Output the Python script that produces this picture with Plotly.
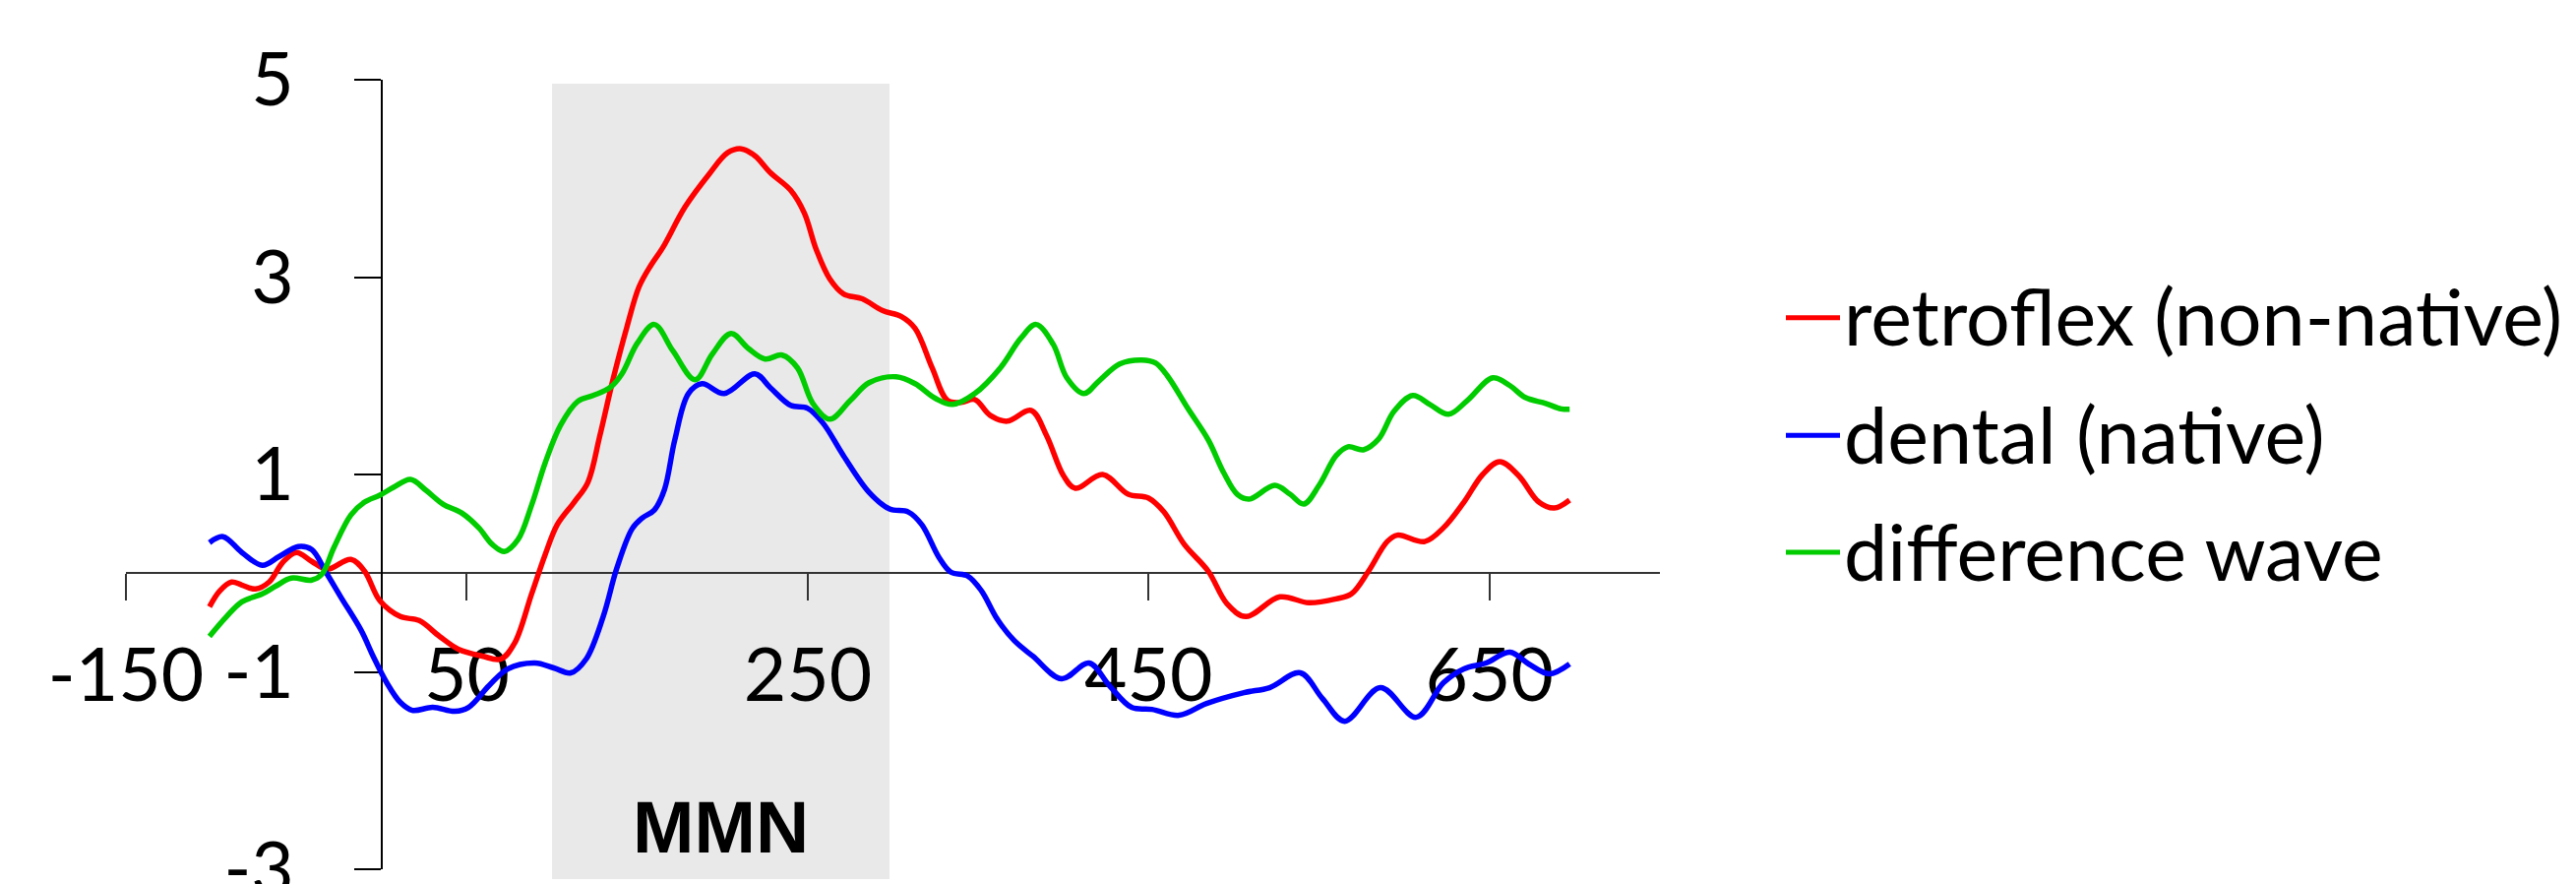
import plotly.graph_objects as go

# ---------------- data ----------------
x_ticks = [-150, 50, 250, 450, 650]
x_ticktext = ["-150", "50", "250", "450", "650"]
y_ticks = [-3, -1, 1, 3, 5]
y_ticktext = ["-3", "-1", "1", "3", "5"]

series_names = ["retroflex (non-native)", "dental (native)", "difference wave"]

retroflex_x = [-101, -95, -88, -82, -74, -66, -58, -50, -41, -32, -18, -10, -1, 11, 22, 34, 45, 59, 70, 78,
               88, 96, 103, 113, 121, 128, 136, 144, 151, 158, 165, 178, 192, 203, 211, 219, 228, 240, 248, 255,
               263, 271, 282, 294, 305, 313, 323, 332, 340, 348, 357, 367, 381, 390, 400, 407, 423, 438, 450, 459,
               471, 485, 496, 507, 527, 544, 560, 569, 579, 590, 596, 612, 623, 635, 646, 656, 667, 679, 688, 697]
retroflex_y = [-0.34, -0.18, -0.09, -0.12, -0.16, -0.09, 0.11, 0.21, 0.12, 0.04, 0.14, 0.02, -0.28, -0.44, -0.48, -0.64, -0.77, -0.84, -0.87, -0.71,
               -0.21, 0.19, 0.49, 0.72, 0.92, 1.39, 1.98, 2.50, 2.90, 3.12, 3.30, 3.71, 4.04, 4.26, 4.30, 4.23, 4.06, 3.88, 3.65, 3.28,
               2.98, 2.83, 2.78, 2.66, 2.60, 2.48, 2.08, 1.75, 1.73, 1.76, 1.60, 1.54, 1.65, 1.40, 0.99, 0.86, 1.00, 0.80, 0.76, 0.62,
               0.29, 0.02, -0.31, -0.44, -0.24, -0.30, -0.26, -0.21, 0.02, 0.32, 0.385, 0.32, 0.46, 0.72, 1.00, 1.13, 0.99, 0.72, 0.66, 0.74]

dental_x = [-101, -93, -82, -70, -60, -49, -41, -33, -24, -12, -5, 3, 11, 18, 30, 43, 51, 63, 74, 90,
            101, 111, 120, 130, 138, 147, 153, 160, 166, 172, 180, 188, 201, 219, 228, 240, 250, 259, 271, 286,
            298, 309, 317, 327, 334, 344, 352, 361, 371, 382, 399, 415, 427, 440, 452, 468, 484, 506, 521, 539,
            552, 565, 586, 607, 623, 635, 648, 662, 673, 685, 697]
dental_y = [0.31, 0.37, 0.21, 0.08, 0.17, 0.27, 0.24, 0.02, -0.24, -0.58, -0.84, -1.11, -1.31, -1.39, -1.36, -1.40, -1.36, -1.14, -0.97, -0.91,
            -0.96, -1.01, -0.87, -0.44, 0.05, 0.45, 0.56, 0.64, 0.85, 1.35, 1.82, 1.92, 1.82, 2.02, 1.88, 1.70, 1.67, 1.52, 1.19, 0.82,
            0.65, 0.62, 0.49, 0.16, 0.01, -0.03, -0.18, -0.46, -0.68, -0.84, -1.07, -0.91, -1.14, -1.36, -1.38, -1.44, -1.32, -1.21, -1.16, -1.01,
            -1.27, -1.50, -1.16, -1.46, -1.11, -0.97, -0.91, -0.80, -0.92, -1.02, -0.92]

difference_x = [-101, -91, -82, -70, -62, -53, -41, -35, -28, -18, -10, -1, 7, 17, 26, 36, 47, 57, 65, 72,
                80, 88, 96, 105, 115, 124, 134, 141, 150, 160, 171, 184, 194, 205, 215, 225, 235, 244, 253, 263,
                275, 286, 302, 313, 325, 335, 348, 363, 375, 384, 394, 402, 412, 421, 433, 446, 454, 461, 473, 485,
                494, 502, 509, 524, 533, 541, 550, 560, 567, 576, 585, 594, 605, 615, 626, 637, 652, 662, 671, 683,
                692, 697]
difference_y = [-0.64, -0.44, -0.29, -0.21, -0.13, -0.05, -0.07, -0.01, 0.26, 0.59, 0.72, 0.79, 0.87, 0.95, 0.84, 0.70, 0.61, 0.46, 0.29, 0.22,
                0.34, 0.69, 1.12, 1.50, 1.74, 1.80, 1.88, 2.02, 2.33, 2.52, 2.25, 1.96, 2.22, 2.43, 2.28, 2.17, 2.21, 2.08, 1.72, 1.56,
                1.75, 1.93, 1.99, 1.92, 1.77, 1.71, 1.82, 2.08, 2.38, 2.52, 2.32, 1.98, 1.82, 1.95, 2.12, 2.16, 2.13, 2.00, 1.67, 1.35,
                1.02, 0.80, 0.75, 0.89, 0.80, 0.70, 0.89, 1.19, 1.28, 1.25, 1.36, 1.64, 1.80, 1.71, 1.61, 1.75, 1.98, 1.90, 1.78, 1.72,
                1.665, 1.66]

mmn_window = [100, 298]       # shaded MMN window (ms)
mmn_label = "MMN"

# ---------------- styling / layout ----------------
PAGE_OFF = 8                   # default body margin of the html page
W, H = 2618 - PAGE_OFF, 898 - PAGE_OFF
ML, MR, MT, MB = 128 - PAGE_OFF, 931, 81 - PAGE_OFF, 15
X_RANGE = [-150, 750]
Y_RANGE = [-3, 5]
colors = ["#ff0000", "#0000ff", "#00cc00"]
TICK_FONT = dict(family="Lato, 'Open Sans', sans-serif", size=75, color="black")
LEGEND_FONT = dict(family="Lato, 'Open Sans', sans-serif", size=79, color="black")

plot_w = W - ML - MR
plot_h = H - MT - MB


def px_to_paper_x(px):  # px = page pixel
    return (px - PAGE_OFF - ML) / plot_w


def px_to_paper_y(py):
    return (H - MB - (py - PAGE_OFF)) / plot_h


fig = go.Figure()

for name, xs, ys, col in zip(series_names,
                             [retroflex_x, dental_x, difference_x],
                             [retroflex_y, dental_y, difference_y],
                             colors):
    fig.add_trace(go.Scatter(x=xs, y=ys, mode="lines", name=name, showlegend=False,
                             line=dict(color=col, width=5.5, shape="spline", smoothing=1.0)))

shapes = []
# shaded MMN window
shapes.append(dict(type="rect", xref="x", yref="paper", x0=mmn_window[0], x1=mmn_window[1],
                   y0=px_to_paper_y(893), y1=px_to_paper_y(85),
                   fillcolor="#e9e9e9", line=dict(width=0), layer="below"))

annotations = [dict(x=sum(mmn_window) / 2, y=-2.57, xref="x", yref="y", text="<b>%s</b>" % mmn_label,
                    showarrow=False, font=dict(family="Liberation Sans, Arial, sans-serif", size=75, color="black"),
                    xanchor="center", yanchor="middle")]

# manual legend
legend_rows_py = [322.7, 442.3, 561.0]
for name, col, py in zip(series_names, colors, legend_rows_py):
    shapes.append(dict(type="line", xref="paper", yref="paper",
                       x0=px_to_paper_x(1815), x1=px_to_paper_x(1870),
                       y0=px_to_paper_y(py), y1=px_to_paper_y(py),
                       line=dict(color=col, width=5)))
    annotations.append(dict(x=px_to_paper_x(1872), y=px_to_paper_y(py - 2), xref="paper", yref="paper",
                            text=name, showarrow=False, xanchor="left", yanchor="middle",
                            font=LEGEND_FONT))

fig.update_layout(
    width=W, height=H, autosize=False,
    margin=dict(l=ML, r=MR, t=MT, b=MB, pad=0, autoexpand=False),
    paper_bgcolor="white", plot_bgcolor="white",
    showlegend=False,
    shapes=shapes, annotations=annotations,
    xaxis=dict(range=X_RANGE, tickmode="array", tickvals=x_ticks, ticktext=x_ticktext,
               showgrid=False, zeroline=False, showline=True, linecolor="#333333", linewidth=2,
               ticks="outside", ticklen=27, tickwidth=2, tickcolor="#333333",
               anchor="free", position=(0 - Y_RANGE[0]) / (Y_RANGE[1] - Y_RANGE[0]),
               tickfont=TICK_FONT, ticklabelstandoff=12, ticklabeloverflow="allow",
               automargin=False, layer="below traces"),
    yaxis=dict(range=Y_RANGE, tickmode="array", tickvals=y_ticks, ticktext=y_ticktext,
               showgrid=False, zeroline=False, showline=True, linecolor="black", linewidth=2,
               ticks="outside", ticklen=27, tickwidth=2, tickcolor="black",
               anchor="free", position=(0 - X_RANGE[0]) / (X_RANGE[1] - X_RANGE[0]),
               tickfont=TICK_FONT, ticklabelstandoff=46, ticklabeloverflow="allow",
               automargin=False, layer="below traces"),
)

fig.write_html("out.html", config=dict(displayModeBar=False))
